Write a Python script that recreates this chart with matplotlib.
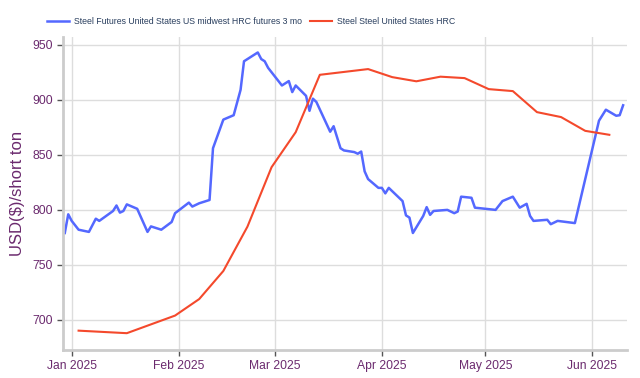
#!/usr/bin/env python3

import pandas as pd
import matplotlib
matplotlib.use('Agg')
import matplotlib.pyplot as plt
import matplotlib.dates as mdates

# futures curve
FUT_DATES = ['2024-12-30', '2024-12-31', '2025-01-01', '2025-01-03', '2025-01-06', '2025-01-08',
             '2025-01-09', '2025-01-13', '2025-01-14', '2025-01-15', '2025-01-16', '2025-01-17',
             '2025-01-20', '2025-01-23', '2025-01-24', '2025-01-27', '2025-01-30', '2025-01-31',
             '2025-02-04', '2025-02-05', '2025-02-07', '2025-02-10', '2025-02-11', '2025-02-14',
             '2025-02-17', '2025-02-19', '2025-02-20', '2025-02-24', '2025-02-25', '2025-02-26',
             '2025-02-27', '2025-03-03', '2025-03-05', '2025-03-06', '2025-03-07', '2025-03-10',
             '2025-03-11', '2025-03-12', '2025-03-13', '2025-03-17', '2025-03-18', '2025-03-20',
             '2025-03-21', '2025-03-24', '2025-03-25', '2025-03-26', '2025-03-27', '2025-03-28',
             '2025-03-31', '2025-04-01', '2025-04-02', '2025-04-03', '2025-04-07', '2025-04-08',
             '2025-04-09', '2025-04-10', '2025-04-13', '2025-04-14', '2025-04-15', '2025-04-16',
             '2025-04-20', '2025-04-22', '2025-04-23', '2025-04-24', '2025-04-27', '2025-04-28',
             '2025-05-04', '2025-05-06', '2025-05-09', '2025-05-11', '2025-05-13', '2025-05-14',
             '2025-05-15', '2025-05-19', '2025-05-20', '2025-05-22', '2025-05-27', '2025-06-03',
             '2025-06-05', '2025-06-08', '2025-06-09', '2025-06-10']
FUT_VALUES = [779, 796, 790, 782, 780, 792, 790, 799, 804, 797.5, 799, 805,
              801, 780, 785, 782, 789, 797, 806.6, 803, 806, 809, 856, 882,
              886, 909, 935, 943, 937, 935, 929, 913, 917, 907, 913, 903.6,
              890, 901, 898, 871, 876, 856, 854, 852.5, 851, 853, 835, 828,
              820, 820, 815, 820, 808, 795, 793, 779, 794.5, 802.5, 795.5, 799,
              800, 797, 798.5, 812, 811, 802, 800, 808, 812, 802, 805.5, 794.5,
              790, 791, 787, 790, 788, 881, 891, 885.5, 886, 895]

# weekly HRC price
HRC_DATES = ['2025-01-03', '2025-01-17', '2025-01-31', '2025-02-07', '2025-02-14', '2025-02-21',
             '2025-02-28', '2025-03-07', '2025-03-14', '2025-03-28', '2025-04-04', '2025-04-11',
             '2025-04-18', '2025-04-25', '2025-05-02', '2025-05-09', '2025-05-16', '2025-05-23',
             '2025-05-30', '2025-06-06']
HRC_VALUES = [690.3, 688, 704, 719, 744.5, 784.8, 838.8, 870.6, 922.7, 927.9, 920.6, 916.8,
              921, 919.7, 909.7, 907.9, 888.8, 884.3, 871.8, 868.2]

LABEL_COLOR = '#6b2a6e'
GRID_COLOR = '#dddddd'

plt.rcParams['font.family'] = ['Liberation Sans', 'DejaVu Sans']

fig = plt.figure(figsize=(6.4, 3.78), dpi=100)
ax = fig.add_axes([0.099, 0.074, 0.88, 0.828])

ax.plot(pd.to_datetime(FUT_DATES), FUT_VALUES, color='#5468ff', linewidth=1.8,
        label='Steel Futures United States US midwest HRC futures 3 mo')
ax.plot(pd.to_datetime(HRC_DATES), HRC_VALUES, color='#f4492c', linewidth=1.5,
        label='Steel Steel United States HRC')

ax.set_xlim(pd.Timestamp('2024-12-29 14:00'), pd.Timestamp('2025-06-11'))
ax.set_ylim(672.7, 957)
ax.set_yticks([700, 750, 800, 850, 900, 950])
ax.xaxis.set_major_locator(mdates.MonthLocator())
ax.xaxis.set_major_formatter(mdates.DateFormatter('%b %Y'))

ax.grid(True, color=GRID_COLOR, linewidth=1)
ax.set_axisbelow(True)
for side in ['top', 'right']:
  ax.spines[side].set_visible(False)
for side in ['left', 'bottom']:
  ax.spines[side].set_color('#cccccc')
  ax.spines[side].set_linewidth(2)

ax.tick_params(axis='both', colors='#555555', labelcolor=LABEL_COLOR, labelsize=8.7,
               length=4, width=1)
ax.set_ylabel('USD($)/short ton', color=LABEL_COLOR, fontsize=12, labelpad=5)

fig.legend(loc='center', bbox_to_anchor=(0.392, 0.944), ncol=2, frameon=False,
           fontsize=6.3, labelcolor='#2a3f5f', handlelength=2.6, columnspacing=0.9,
           handletextpad=0.5)

plt.savefig('out.png', dpi=100)
